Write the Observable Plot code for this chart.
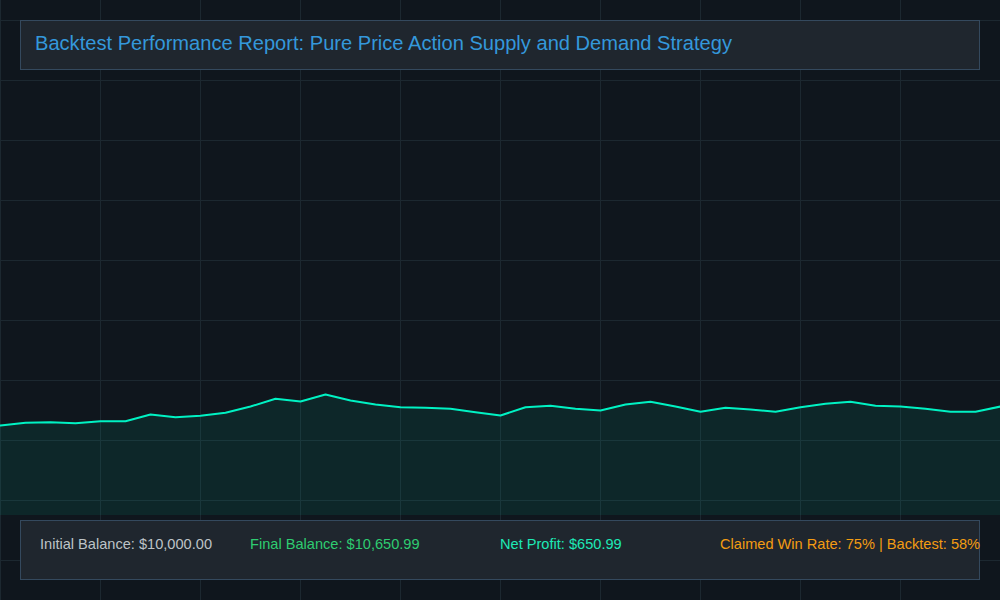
<!DOCTYPE html>
<html>
<head>
<meta charset="utf-8">
<script src="https://cdn.jsdelivr.net/npm/d3@7"></script>
<script src="https://cdn.jsdelivr.net/npm/@observablehq/plot@0.6"></script>
<style>
  html, body { margin: 0; padding: 0; }
  body {
    width: 1000px; height: 600px; overflow: hidden; position: relative;
    background-color: #0f161d;
    background-image:
      linear-gradient(to right, #1c2830 1px, transparent 1px),
      linear-gradient(to bottom, #1c2830 1px, transparent 1px);
    background-size: 100px 60px;
    background-position: 0 20px;
    font-family: "Liberation Sans", Arial, sans-serif;
  }
  #chart { position: absolute; left: 0; top: 0; }
  .box {
    position: absolute; left: 20px; width: 958px;
    background: #1f262e; border: 1px solid #34495e;
  }
  #titleBox { top: 20px; height: 48px; }
  #statsBox { top: 520px; height: 58px; }
  #title {
    position: absolute; left: 35px; top: 33px; font-size: 20.1px; line-height: 20px;
    color: #3498db; white-space: nowrap;
  }
  .stat { position: absolute; top: 536.5px; font-size: 14.6px; line-height: 14.6px; white-space: nowrap; }
</style>
</head>
<body>
<div id="chart"></div>
<div class="box" id="titleBox"></div>
<div id="title"></div>
<div class="box" id="statsBox"></div>
<div id="stats"></div>
<script>
// Equity curve: account balance after each trade (trade 0 = start)
const trades = d3.range(41);
const balances = [
  10000, 10092, 10113, 10079, 10147, 10147, 10377, 10284, 10332, 10435,
  10651, 10915, 10822, 11062, 10857, 10719, 10627, 10606, 10572, 10456,
  10343, 10627, 10675, 10572, 10514, 10719, 10812, 10651, 10469, 10606,
  10548, 10469, 10627, 10743, 10812, 10675, 10651, 10572, 10469, 10469,
  10650.99
];
const titleText = "Backtest Performance Report: Pure Price Action Supply and Demand Strategy";
const statLabels = [
  "Initial Balance: $10,000.00",
  "Final Balance: $10,650.99",
  "Net Profit: $650.99",
  "Claimed Win Rate: 75% | Backtest: 58%"
];
const statColors = ["#bdc3c7", "#2ecc71", "#1de9b6", "#f39c12"];
const statLefts = [40, 250, 500, 720];

const yDomain = [6917, 24560];
const data = trades.map((t, i) => ({trade: t, balance: balances[i]}));

const chart = Plot.plot({
  width: 1000,
  height: 515,
  margin: 0,
  style: {background: "transparent", overflow: "visible"},
  x: {domain: [0, 40], axis: null},
  y: {domain: yDomain, axis: null},
  marks: [
    Plot.areaY(data, {x: "trade", y1: yDomain[0], y2: "balance", fill: "#00f2c3", fillOpacity: 0.08}),
    Plot.lineY(data, {x: "trade", y: "balance", stroke: "#00f2c3", strokeWidth: 2})
  ]
});
document.getElementById("chart").append(chart);

document.getElementById("title").textContent = titleText;
const stats = document.getElementById("stats");
statLabels.forEach((s, i) => {
  const d = document.createElement("div");
  d.className = "stat";
  d.textContent = s;
  d.style.color = statColors[i];
  d.style.left = statLefts[i] + "px";
  stats.append(d);
});
</script>
</body>
</html>
